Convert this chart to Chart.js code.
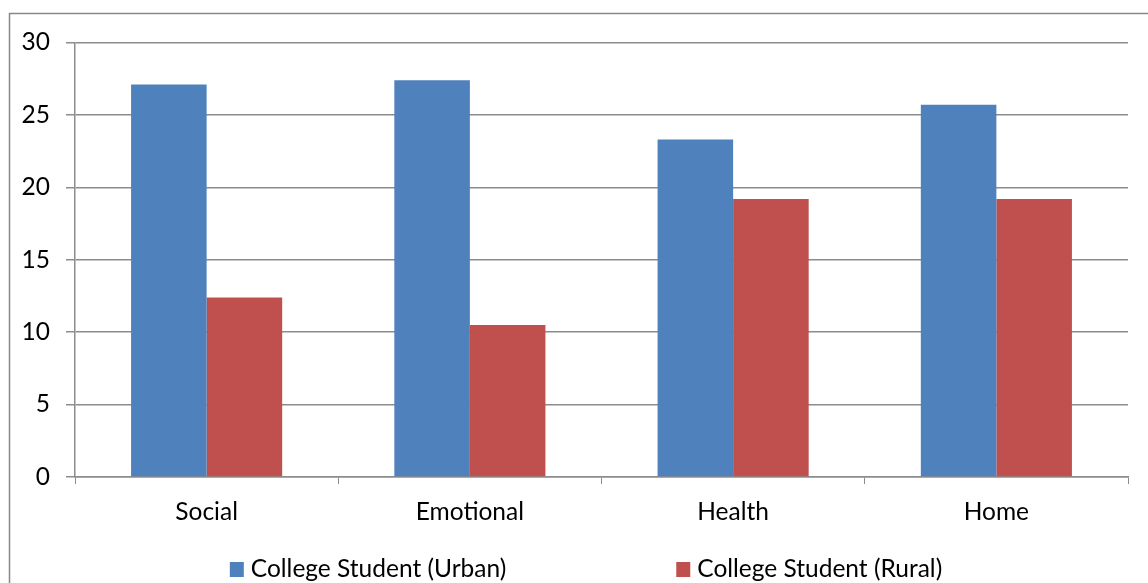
<!DOCTYPE html>
<html lang="en">
<head>
<meta charset="UTF-8">
<title>College Student Urban vs Rural</title>
<script src="https://cdn.jsdelivr.net/npm/chart.js"></script>
<style>
  html, body { margin: 0; padding: 0; background: #fff; }
  #wrap { width: 1148px; height: 583px; position: relative; }
</style>
</head>
<body>
<div id="wrap"><canvas id="chart"></canvas></div>
<script>
const categories = ['Social', 'Emotional', 'Health', 'Home'];
const urbanValues = [27.1, 27.4, 23.3, 25.7];
const ruralValues = [12.4, 10.5, 19.2, 19.2];
const seriesNames = ['College Student (Urban)', 'College Student (Rural)'];

const FONT = 'Lato';
const FSIZE = 24.5;
const GRID = '#8c8c8c';

// outer frame + legend drawn by hand (legend items spaced wide like the original)
const framePlugin = {
  id: 'frame',
  beforeDraw(chart) {
    const c = chart.ctx;
    c.save();
    c.strokeStyle = '#888';
    c.lineWidth = 1.5;
    c.beginPath();
    c.moveTo(9.5, 600);
    c.lineTo(9.5, 13.5);
    c.lineTo(1160, 13.5);
    c.stroke();
    c.restore();
  },
  afterDraw(chart) {
    const c = chart.ctx;
    c.save();
    c.font = FSIZE + 'px ' + FONT;
    c.textBaseline = 'middle';
    const box = 14, gap = 7, spacing = 170;
    const items = chart.data.datasets.map(ds => ({
      text: ds.label, color: ds.backgroundColor,
      w: box + gap + c.measureText(ds.label).width
    }));
    const total = items.reduce((s, it) => s + it.w, 0) + spacing;
    let x = 586 - total / 2;
    const y = 569;
    items.forEach(it => {
      c.fillStyle = it.color;
      c.fillRect(x, y - 7, box, box + 1);
      c.fillStyle = '#000';
      c.fillText(it.text, x + box + gap, y);
      x += it.w + spacing;
    });
    c.restore();
  }
};

new Chart(document.getElementById('chart'), {
  type: 'bar',
  data: {
    labels: categories,
    datasets: [
      { label: seriesNames[0], data: urbanValues, backgroundColor: '#4F81BD' },
      { label: seriesNames[1], data: ruralValues, backgroundColor: '#C0504D' }
    ]
  },
  options: {
    responsive: true,
    maintainAspectRatio: false,
    animation: false,
    layout: { padding: { left: 0, right: 20, top: 42.5, bottom: 0 } },
    datasets: { bar: { categoryPercentage: 0.574, barPercentage: 1 } },
    plugins: {
      legend: { display: false },
      tooltip: { enabled: false }
    },
    scales: {
      x: {
        afterFit(scale) { scale.height = 106; },
        grid: { offset: true, drawOnChartArea: false, drawTicks: true, tickLength: 7, color: GRID },
        border: { color: GRID, width: 1.5 },
        ticks: { color: '#000', font: { family: FONT, size: FSIZE }, padding: 13 }
      },
      y: {
        min: 0, max: 30,
        afterFit(scale) { scale.width = 75; },
        grid: { color: GRID, lineWidth: 1.5, tickLength: 9 },
        border: { color: GRID, width: 1.5 },
        ticks: { stepSize: 5, color: '#000', font: { family: FONT, size: FSIZE }, padding: 16 }
      }
    }
  },
  plugins: [framePlugin]
});
</script>
</body>
</html>
